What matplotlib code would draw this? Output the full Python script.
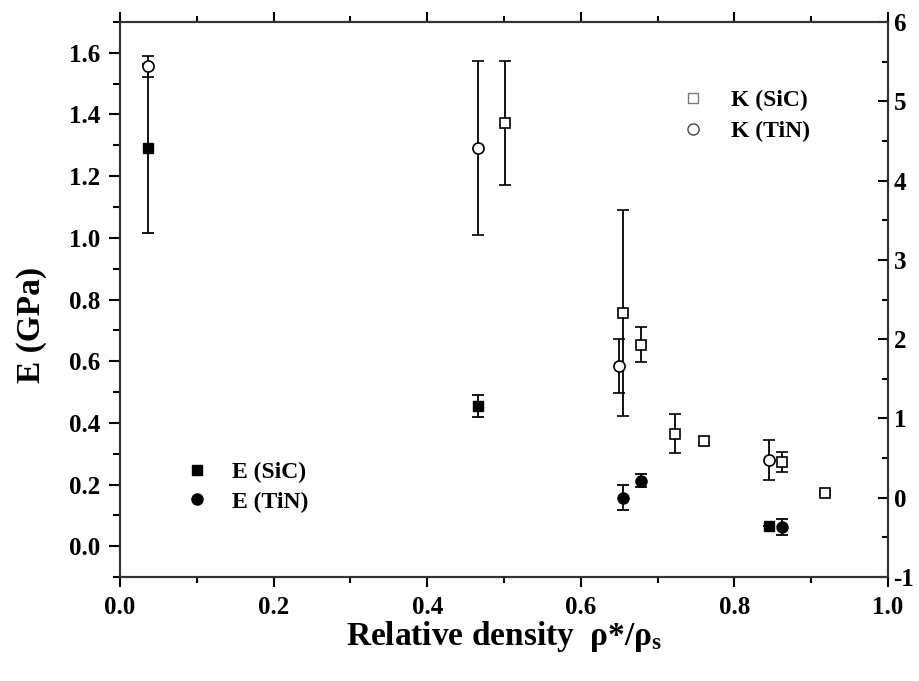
import matplotlib.pyplot as plt
from matplotlib.lines import Line2D
from matplotlib.ticker import MultipleLocator

plt.rcParams['font.family'] = ['Liberation Serif', 'DejaVu Serif']
plt.rcParams['font.weight'] = 'bold'
plt.rcParams['axes.unicode_minus'] = False

# E (GPa), left axis
e_sic_x = [0.037, 0.466, 0.845]
e_sic_y = [1.29, 0.455, 0.065]
e_sic_err = [0.275, 0.035, 0.0]

e_tin_x = [0.655, 0.679, 0.862]
e_tin_y = [0.157, 0.213, 0.062]
e_tin_err = [0.04, 0.022, 0.025]

# K, right axis
k_sic_x = [0.501, 0.655, 0.679, 0.722, 0.760, 0.862, 0.918]
k_sic_y = [4.73, 2.33, 1.93, 0.81, 0.72, 0.45, 0.06]
k_sic_err = [0.78, 1.30, 0.22, 0.25, 0.05, 0.13, 0.03]

k_tin_x = [0.037, 0.466, 0.650, 0.845]
k_tin_y = [5.44, 4.41, 1.665, 0.475]
k_tin_err = [0.13, 1.10, 0.34, 0.25]

fig = plt.figure(figsize=(9.19, 6.81), dpi=100)
ax = fig.add_axes([0.1306, 0.1527, 0.8357, 0.815])
ax2 = ax.twinx()

ebkw = dict(ecolor='black', elinewidth=1.3, capsize=4, capthick=1.3, linestyle='none')

ax.errorbar(e_sic_x, e_sic_y, yerr=e_sic_err, marker='s', ms=7, mfc='black', mec='black', **ebkw)
ax.errorbar(e_tin_x, e_tin_y, yerr=e_tin_err, marker='o', ms=8, mfc='black', mec='black', **ebkw)
ax2.errorbar(k_sic_x, k_sic_y, yerr=k_sic_err, marker='s', ms=7, mfc='white', mec='black', mew=1.2, **ebkw)
ax2.errorbar(k_tin_x, k_tin_y, yerr=k_tin_err, marker='o', ms=8, mfc='white', mec='black', mew=1.2, **ebkw)

ax.set_xlim(0, 1)
ax.set_ylim(-0.1, 1.7)
ax2.set_ylim(-1, 6)

ax.xaxis.set_major_locator(MultipleLocator(0.2))
ax.xaxis.set_minor_locator(MultipleLocator(0.1))
ax.yaxis.set_major_locator(MultipleLocator(0.2))
ax.yaxis.set_minor_locator(MultipleLocator(0.1))
ax2.yaxis.set_major_locator(MultipleLocator(1))
ax2.yaxis.set_minor_locator(MultipleLocator(0.5))

ax.tick_params(axis='x', which='both', direction='out', top=True, labelsize=18, width=1.5, pad=7)
ax.tick_params(axis='x', which='major', length=7)
ax.tick_params(axis='x', which='minor', length=4)
ax.tick_params(axis='y', which='both', direction='out', labelsize=18, width=1.5, pad=6)
ax.tick_params(axis='y', which='major', length=8)
ax.tick_params(axis='y', which='minor', length=5)
ax2.tick_params(axis='y', which='both', direction='in', labelsize=18, width=1.5, pad=4)
ax2.tick_params(axis='y', which='major', length=7)
ax2.tick_params(axis='y', which='minor', length=4)

for a in (ax, ax2):
    for s in a.spines.values():
        s.set_linewidth(1.5)
        s.set_color('#333333')

ax.yaxis.set_major_formatter(plt.FuncFormatter(lambda v, p: f'{v:.1f}'))
ax.xaxis.set_major_formatter(plt.FuncFormatter(lambda v, p: f'{v:.1f}'))

ax.set_ylabel('E (GPa)', fontsize=24, fontweight='bold')
ax.yaxis.set_label_coords(-0.095, 0.454)
ax.set_xlabel(r'Relative density  $\mathregular{\rho}$*/$\mathregular{\rho_s}$', fontsize=24,
              fontweight='bold', labelpad=0)

# legends
h_e = [Line2D([], [], marker='s', ms=7, color='black', ls='none'),
       Line2D([], [], marker='o', ms=8, color='black', ls='none')]
fig.legend(h_e, ['E (SiC)', 'E (TiN)'], loc='upper left', bbox_to_anchor=(0.186, 0.34),
           frameon=False, fontsize=17, handlelength=1.2, handletextpad=0.9, labelspacing=0.35,
           borderpad=0)
h_k = [Line2D([], [], marker='s', ms=7, mfc='white', mec='#777777', ls='none'),
       Line2D([], [], marker='o', ms=8, mfc='white', mec='#444444', ls='none')]
fig.legend(h_k, ['K (SiC)', 'K (TiN)'], loc='upper left', bbox_to_anchor=(0.726, 0.886),
           frameon=False, fontsize=17, handlelength=1.2, handletextpad=1.0, labelspacing=0.4,
           borderpad=0)

fig.savefig('out.png', dpi=100)
